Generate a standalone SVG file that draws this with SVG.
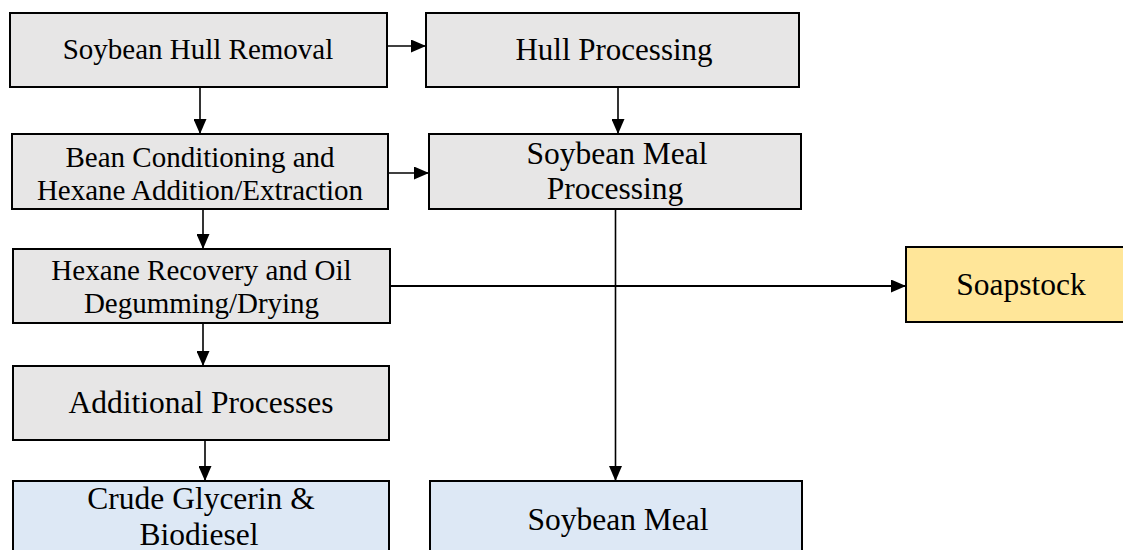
<svg xmlns="http://www.w3.org/2000/svg" width="1123" height="550" viewBox="0 0 1123 550">
<style>
.box{stroke:#000;stroke-width:2}
.gray{fill:#e7e6e6}
.blue{fill:#dde8f5}
.yellow{fill:#ffe699}
text{font-family:"Liberation Serif","Times New Roman",serif;fill:#000;text-anchor:middle}
.s{font-size:29px}
.l{font-size:31.5px}
.c{stroke:#000;stroke-width:1.6;fill:none;marker-end:url(#ah)}
</style>
<defs>
<marker id="ah" markerUnits="userSpaceOnUse" markerWidth="15" markerHeight="13" refX="15" refY="6.5" orient="auto">
<path d="M0,0 L15,6.5 L0,13 z" fill="#000"/>
</marker>
</defs>
<rect width="1123" height="550" fill="#fff"/>
<g id="connectors">
<line class="c" x1="387" y1="46" x2="426" y2="46"/>
<line class="c" x1="200" y1="87" x2="200" y2="134"/>
<line class="c" x1="618" y1="87" x2="618" y2="134"/>
<line class="c" x1="388" y1="173" x2="429" y2="173"/>
<line class="c" x1="203" y1="209" x2="203" y2="249"/>
<line class="c" x1="390" y1="286" x2="906" y2="286" style="stroke-width:2"/>
<line class="c" x1="615.5" y1="209" x2="615.5" y2="481"/>
<line class="c" x1="203" y1="323" x2="203" y2="366"/>
<line class="c" x1="205" y1="440" x2="205" y2="481"/>
</g>
<g id="hull-removal">
<rect class="box gray" x="10" y="13" width="377" height="74"/>
<text class="s" x="198" y="59">Soybean Hull Removal</text>
</g>
<g id="hull-processing">
<rect class="box gray" x="426" y="13" width="373" height="74"/>
<text class="l" x="614" y="60" style="font-size:31px">Hull Processing</text>
</g>
<g id="bean-conditioning">
<rect class="box gray" x="12" y="134" width="376" height="75"/>
<text class="s" x="200" y="167">Bean Conditioning and</text>
<text class="s" x="200" y="200">Hexane Addition/Extraction</text>
</g>
<g id="meal-processing">
<rect class="box gray" x="429" y="134" width="372" height="75"/>
<text class="l" x="617" y="164">Soybean Meal</text>
<text class="l" x="615" y="199">Processing</text>
</g>
<g id="hexane-recovery">
<rect class="box gray" x="13" y="249" width="377" height="74"/>
<text class="s" x="201.5" y="280">Hexane Recovery and Oil</text>
<text class="s" x="201.5" y="313">Degumming/Drying</text>
</g>
<g id="additional">
<rect class="box gray" x="13" y="366" width="376" height="74"/>
<text class="l" x="201" y="413">Additional Processes</text>
</g>
<g id="crude-glycerin">
<rect class="box blue" x="13" y="481" width="376" height="80"/>
<text class="l" x="201" y="509">Crude Glycerin &amp;</text>
<text class="l" x="199" y="545">Biodiesel</text>
</g>
<g id="soybean-meal">
<rect class="box blue" x="430" y="481" width="372" height="80"/>
<text class="l" x="618" y="530">Soybean Meal</text>
</g>
<g id="soapstock">
<rect class="box yellow" x="906" y="247" width="240" height="75"/>
<text class="l" x="1021" y="295">Soapstock</text>
</g>
</svg>
